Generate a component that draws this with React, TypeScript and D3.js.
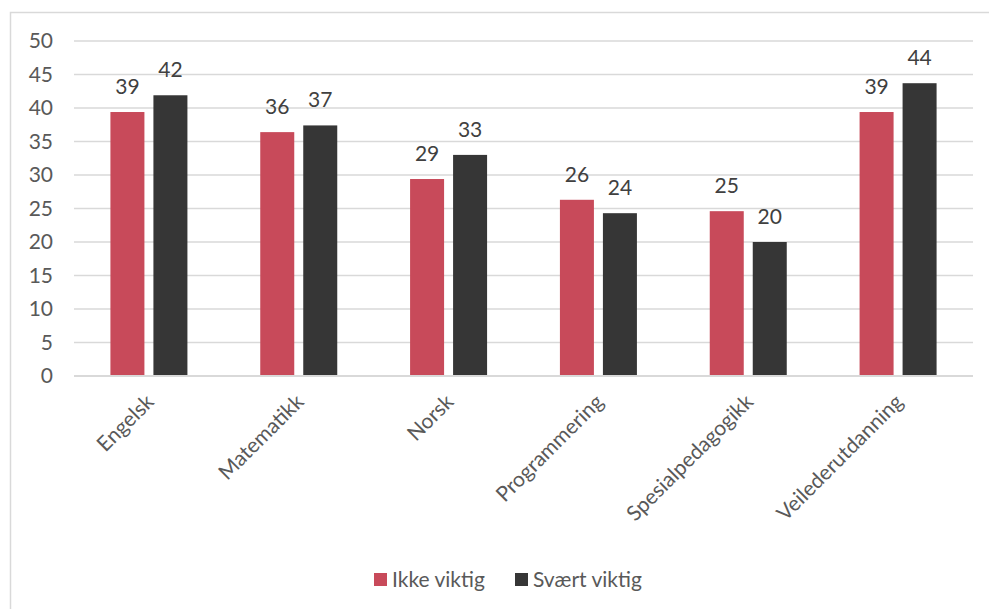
import React from "react";
import * as d3 from "d3";

const categories = ["Engelsk", "Matematikk", "Norsk", "Programmering", "Spesialpedagogikk", "Veilederutdanning"];
const seriesNames = ["Ikke viktig", "Svært viktig"];
const ikkeViktig = [39.4, 36.4, 29.4, 26.3, 24.6, 39.4];
const svaertViktig = [41.9, 37.4, 33.0, 24.3, 20.0, 43.7];
const yTicks = [0, 5, 10, 15, 20, 25, 30, 35, 40, 45, 50];
const colors = ["#c84a5a", "#363636"];

const W = 989, H = 609;
const left = 74, right = 973, top = 41, bottom = 376;
const font = "Lato, 'Open Sans', sans-serif";
const fs = 21;

export default function App() {
  const x = d3.scaleBand<string>().domain(categories).range([left, right]).paddingInner(0).paddingOuter(0);
  const y = d3.scaleLinear().domain([0, 50]).range([bottom, top]);
  const barW = 34, gap = 9;
  const series = [ikkeViktig, svaertViktig];
  return (
    <svg width={W} height={H} style={{ position: "absolute", left: 0, top: 0, background: "#fff" }}>
      <rect x={10.5} y={12.5} width={W} height={H} fill="#fff" stroke="#d9d9d9" strokeWidth={1.5} />
      {yTicks.map((t) => (
        <g key={t}>
          {t > 0 && <line x1={left} x2={right} y1={y(t)} y2={y(t)} stroke="#d9d9d9" strokeWidth={1.3} />}
          <text x={53} y={y(t)} dy="0.35em" textAnchor="end" fontFamily={font} fontSize={fs} fill="#595959">{t}</text>
        </g>
      ))}
      {categories.map((c, i) => {
        const cx = (x(c) as number) + x.bandwidth() / 2;
        return (
          <g key={c}>
            {series.map((s, j) => {
              const bx = j === 0 ? cx - gap / 2 - barW : cx + gap / 2;
              return (
                <g key={j}>
                  <rect x={bx} y={y(s[i])} width={barW} height={bottom - y(s[i])} fill={colors[j]} />
                  <text x={bx + barW / 2} y={y(s[i]) - 18} textAnchor="middle" fontFamily={font} fontSize={fs} fill="#404040">{Math.round(s[i])}</text>
                </g>
              );
            })}
            <text transform={`translate(${cx + 1},${bottom + 22}) rotate(-45)`} textAnchor="end" dy="0.35em" fontFamily={font} fontSize={fs} fill="#595959">{c}</text>
          </g>
        );
      })}
      <line x1={left} x2={right} y1={bottom} y2={bottom} stroke="#d9d9d9" strokeWidth={2} />
      {seriesNames.map((n, j) => {
        const lx = j === 0 ? 374 : 515;
        return (
          <g key={n}>
            <rect x={lx} y={573} width={13} height={13} fill={colors[j]} />
            <text x={lx + 18} y={580} dy="0.35em" fontFamily={font} fontSize={fs} fill="#595959">{n}</text>
          </g>
        );
      })}
    </svg>
  );
}
